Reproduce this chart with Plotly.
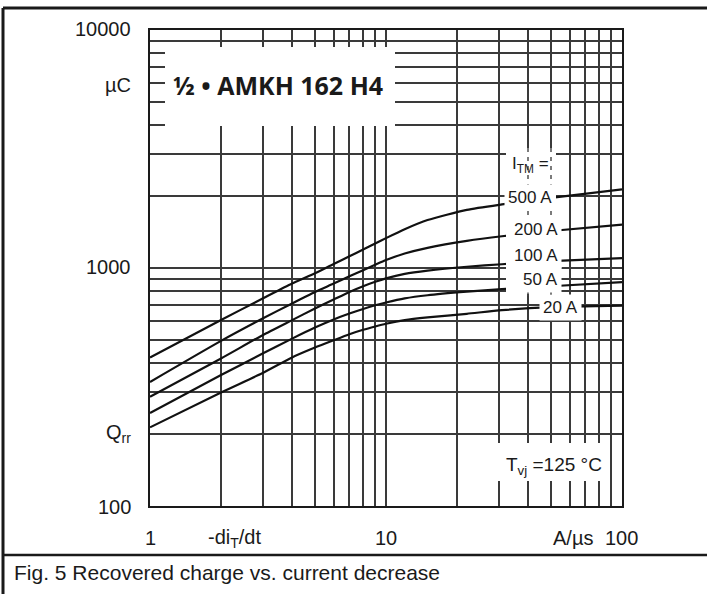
import plotly.graph_objects as go

# ---- data ----
di_dt = [1, 2, 3, 4, 5, 6, 7, 8, 9, 10, 12, 15, 22, 31, 50, 100]
qrr_500 = [421, 605, 744, 860, 950, 1040, 1120, 1195, 1267, 1335, 1455, 1590, 1755, 1850, 1970, 2140]
qrr_200 = [332, 494, 613, 710, 793, 860, 923, 979, 1032, 1080, 1150, 1215, 1300, 1360, 1430, 1520]
qrr_100 = [288, 417, 522, 604, 676, 737, 793, 838, 875, 905, 945, 975, 1012, 1037, 1068, 1100]
qrr_50 = [246, 355, 437, 505, 562, 608, 644, 673, 697, 716, 745, 768, 795, 815, 838, 872]
qrr_20 = [214, 300, 362, 421, 463, 497, 527, 550, 568, 583, 604, 620, 642, 665, 685, 695]
series_labels = ["500 A", "200 A", "100 A", "50 A", "20 A"]

x_grid = [2, 3, 4, 5, 6, 7, 8, 9, 10, 20, 30, 40, 50, 60, 70, 80, 90]
y_grid = [200, 300, 400, 500, 600, 700, 800, 900, 1000,
          2000, 3000, 4000, 5000, 6000, 7000, 8000, 9000]

# ---- layout geometry (pixels) ----
W, H = 707, 594
L, R, T, B = 150, 622, 30, 506


def px(x):
    return (x - L) / (R - L)


def py(y):
    return (B - y) / (B - T)


INK = "#1a1a1a"
FONT = "Liberation Sans, Arial, sans-serif"

fig = go.Figure()
for ys in [qrr_500, qrr_200, qrr_100, qrr_50, qrr_20]:
    fig.add_trace(go.Scatter(x=di_dt, y=ys, mode="lines",
                             line=dict(color="#111", width=2.2, shape="spline", smoothing=0.6),
                             showlegend=False, hoverinfo="skip"))

fig.update_layout(
    width=W, height=H,
    margin=dict(l=L, r=W - R, t=T, b=H - B),
    paper_bgcolor="white", plot_bgcolor="white",
    showlegend=False,
    xaxis=dict(type="log", range=[0, 2], tickvals=x_grid, showticklabels=False,
               ticks="", showgrid=True, gridcolor="#3a3a3a", gridwidth=1.6,
               zeroline=False, showline=True, mirror=True, linecolor=INK, linewidth=2.2),
    yaxis=dict(type="log", range=[2, 4], tickvals=y_grid, showticklabels=False,
               ticks="", showgrid=True, gridcolor="#3a3a3a", gridwidth=1.6,
               zeroline=False, showline=True, mirror=True, linecolor=INK, linewidth=2.2),
)

shapes = []


def rect(x0, y0, x1, y1):
    shapes.append(dict(type="rect", xref="paper", yref="paper",
                       x0=px(x0), x1=px(x1), y0=py(y1), y1=py(y0),
                       fillcolor="white", line=dict(width=0), layer="above"))


def line(x0, y0, x1, y1, w=2.5, dash="solid", color=INK):
    shapes.append(dict(type="line", xref="paper", yref="paper",
                       x0=px(x0), x1=px(x1), y0=py(y0), y1=py(y1),
                       line=dict(color=color, width=w, dash=dash), layer="above"))


# title box, label column, temperature box
rect(165, 47, 395, 126)
rect(506, 148, 556, 294)
rect(497, 443, 609, 481)
# dashed grid lines through the label column
line(528, 148, 528, 296, w=1.4, dash="4px,5px", color="#444")
line(551, 148, 551, 296, w=1.4, dash="4px,5px", color="#444")
# outer frame and caption separator
line(3, 8, 707, 8, w=3)
line(3, 8, 3, 594, w=3)
line(3, 555, 707, 555, w=2.5)
fig.update_layout(shapes=shapes)

ann = []


def text(x, y, s, size=20, xanchor="center", bg=None, family=FONT, pad=1):
    d = dict(xref="paper", yref="paper", x=px(x), y=py(y), text=s, showarrow=False,
             xanchor=xanchor, yanchor="middle",
             font=dict(family=family, size=size, color=INK))
    if bg:
        d["bgcolor"] = bg
        d["borderpad"] = pad
    ann.append(d)


# y-axis texts
y_labels = ["10000", "µC", "1000", "Q<sub>rr</sub>", "100"]
y_label_pos = [29, 85, 267, 433, 507]
for s, yy in zip(y_labels, y_label_pos):
    text(133, yy, s, size=20, xanchor="right")
# x-axis texts
x_labels = ["1", "-di<sub>T</sub>/dt", "10", "A/µs", "100"]
x_label_pos = [150, 234, 386, 573, 621]
for s, xx in zip(x_labels, x_label_pos):
    text(xx, 538, s, size=20)

# title
text(171, 85, "<b>½ • AMKH 162 H4</b>", size=25, xanchor="left",
     family="Open Sans, Noto Sans, sans-serif")

# series labels
text(530, 165, "I<sub>TM</sub> =", size=17)
lab_pos = [(530, 198), (536, 230), (536, 255), (540, 279), (560, 308)]
for s, (xx, yy) in zip(series_labels, lab_pos):
    text(xx, yy, s, size=17, bg="white", pad=3)

text(554, 466, "T<sub>vj</sub> =125 °C", size=19)

# caption
text(12, 572, "Fig. 5 Recovered charge vs. current decrease", size=21, xanchor="left")

fig.update_layout(annotations=ann)
fig.write_html("out.html")
